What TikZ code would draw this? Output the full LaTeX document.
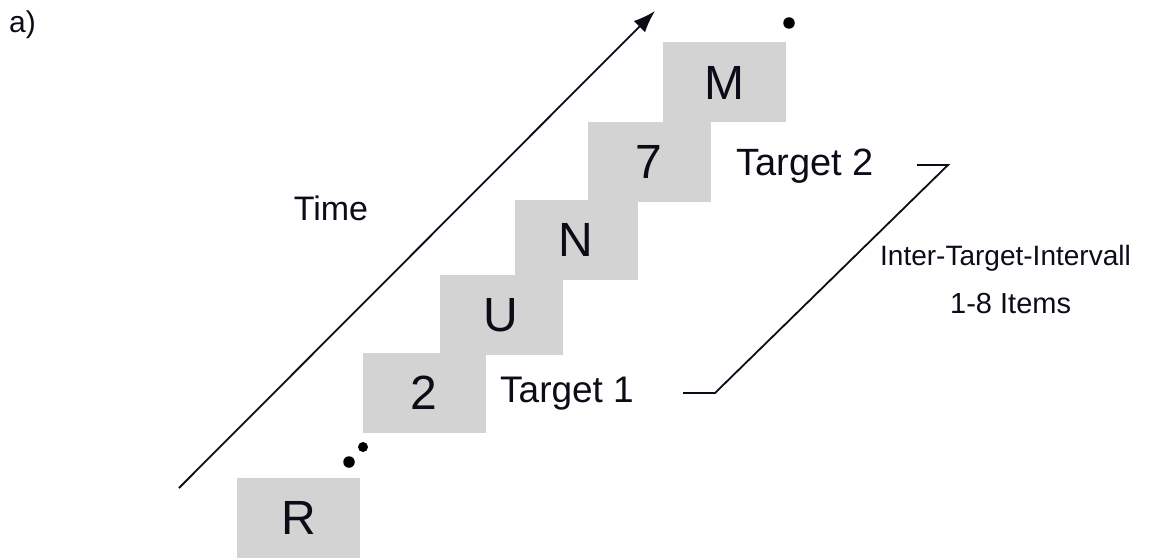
\documentclass[tikz,border=0pt]{standalone}
\usepackage{fontspec}
\setmainfont{Liberation Sans}
\usetikzlibrary{arrows.meta}
\definecolor{itemgray}{RGB}{211,211,211}
\definecolor{ink}{RGB}{12,12,24}
\begin{document}
\begin{tikzpicture}[x=1pt,y=-1pt,
  itembox/.style={fill=itemgray, draw=none, minimum width=123pt, minimum height=80pt,
    inner sep=0pt, text=ink, font=\fontsize{48}{56}\selectfont},
  label/.style={text=ink, inner sep=0pt},
  dotmark/.style={fill=black, draw=none, circle, minimum size=11.5pt, inner sep=0pt},
  stroke/.style={line width=1.8pt, draw=ink}]
\useasboundingbox (0,0) rectangle (1150,559);

% stream of items, one step up and right per item
\node[itembox] (r) at (298.5,518) {R};
\node[itembox] (two) at (424,393) {2};
\node[itembox] (u) at (501,315) {U};
\node[itembox] (n) at (576,239.5) {N};
\node[itembox] (seven) at (649,162) {7};
\node[itembox] (m) at (724,82.5) {M};

% ellipsis dots
\node[dotmark] (d1) at (349,462) {};
\node[dotmark, minimum size=10pt] (d2) at (363,447) {};
\node[dotmark] (d3) at (789,23) {};

% time axis
\coordinate (tstart) at (179,488);
\coordinate (tend) at (655,11);
\draw[stroke, -{Latex[length=22pt,width=16pt]}] (tstart) -- (tend);
\node[label, anchor=base, font=\fontsize{34}{40}\selectfont] (time) at (331,220) {Time};

% target labels
\node[label, anchor=base, font=\fontsize{37}{44}\selectfont] (t1) at (567,402) {Target 1};
\node[label, anchor=base, font=\fontsize{38}{44}\selectfont] (t2) at (805,175) {Target 2};

% interval bracket
\coordinate (b1) at (683,393);
\coordinate (b2) at (715,393);
\coordinate (b3) at (948,165);
\coordinate (b4) at (917,165);
\draw[stroke] (b1) -- (b2) -- (b3) -- (b4);
\node[label, anchor=base west, font=\fontsize{28}{34}\selectfont] (iti) at (880,265) {Inter-Target-Intervall};
\node[label, anchor=base west, font=\fontsize{29}{34}\selectfont] (items) at (950,313) {1-8 Items};

% panel letter
\node[label, anchor=base west, font=\fontsize{30}{34}\selectfont] (panel) at (9,33) {a)};
\end{tikzpicture}
\end{document}
